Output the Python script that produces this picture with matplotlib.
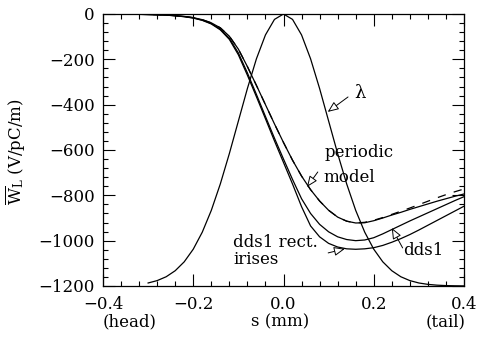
import matplotlib
matplotlib.use("Agg")
import matplotlib.pyplot as plt
from matplotlib.ticker import MultipleLocator

plt.rcParams['font.family'] = ['DejaVu Serif']
plt.rcParams['mathtext.fontset'] = 'dejavuserif'
plt.rcParams['lines.scale_dashes'] = False

# position along bunch (mm)
s = [-0.40, -0.38, -0.36, -0.34, -0.32, -0.30, -0.28, -0.26, -0.24, -0.22,
     -0.20, -0.18, -0.16, -0.14, -0.12, -0.10, -0.08, -0.06, -0.04, -0.02,
     0.00, 0.02, 0.04, 0.06, 0.08, 0.10, 0.12, 0.14, 0.16, 0.18,
     0.20, 0.22, 0.24, 0.26, 0.28, 0.30, 0.32, 0.34, 0.36, 0.38, 0.40]

# dds1 with rectangular irises
w_rect = [0, -0.2, -0.5, -1, -1.5, -2.5, -3.5, -5, -8, -12,
          -18, -28, -44, -70, -112, -180, -270, -365, -462, -560,
          -655, -750, -850, -935, -983, -1012, -1028, -1036, -1038, -1036,
          -1031, -1021, -1007, -991, -973, -953, -932, -911, -890, -869, -848]

# dds1
w_dds1 = [0, -0.2, -0.5, -1, -1.5, -2.4, -3.4, -5, -7.5, -11.5,
          -17, -27, -42, -67, -107, -172, -260, -355, -452, -548,
          -640, -730, -815, -880, -928, -961, -983, -995, -1000, -997,
          -987, -970, -951, -932, -913, -895, -877, -859, -841, -823, -806]

# periodic model
w_per = [0, -0.2, -0.4, -0.8, -1.3, -2, -3, -4.5, -7, -10.5,
         -16, -25, -39, -61, -98, -155, -232, -315, -400, -485,
         -567, -645, -715, -775, -825, -866, -896, -914, -922, -921,
         -912, -900, -887, -875, -862, -850, -838, -826, -815, -804, -794]

# dashed curve (coincides with periodic model in the head)
w_dash = [0, -0.2, -0.4, -0.8, -1.3, -2, -3, -4.5, -7, -10.5,
          -16, -25, -39, -61, -98, -155, -232, -315, -400, -485,
          -567, -645, -715, -775, -825, -866, -896, -914, -922, -919,
          -910, -898, -884, -870, -856, -841, -826, -811, -797, -784, -772]

# bunch distribution lambda (scaled)
lam_s = [-0.30, -0.28, -0.26, -0.24, -0.22, -0.20, -0.18, -0.16, -0.14, -0.12,
         -0.10, -0.08, -0.06, -0.04, -0.02, 0.00, 0.02, 0.04, 0.06, 0.08,
         0.10, 0.12, 0.14, 0.16, 0.18, 0.20, 0.22, 0.24, 0.26, 0.28,
         0.30, 0.32, 0.34, 0.36, 0.38, 0.40]
lam = [-1186.7, -1176.2, -1159.2, -1132.6, -1093.3, -1037.6, -962.5, -866.4, -749.6, -615.8,
       -472.2, -328.7, -197.6, -92.3, -23.8, 0.0, -23.8, -92.3, -197.6, -328.7,
       -472.2, -615.8, -749.6, -866.4, -962.5, -1037.6, -1093.3, -1132.6, -1159.2, -1176.2,
       -1186.7, -1192.8, -1196.3, -1198.2, -1199.1, -1199.6]

xticks = [-0.4, -0.2, 0.0, 0.2, 0.4]
xticklabels = ['\u22120.4', '\u22120.2', '0.0', '0.2', '0.4']
yticks = [-1200, -1000, -800, -600, -400, -200, 0]

fig = plt.figure(figsize=(4.79, 3.37), dpi=100)
ax = fig.add_axes([103/479, 1-286/337, (464-103)/479, (286-14)/337])

lw = 0.9
ax.plot(lam_s, lam, color='black', lw=lw)
ax.plot(s, w_rect, color='black', lw=lw)
ax.plot(s, w_dds1, color='black', lw=lw)
ax.plot(s, w_per, color='black', lw=lw)
ax.plot(s, w_dash, color='black', lw=lw, dashes=(6, 6))

ax.set_xlim(-0.4, 0.4)
ax.set_ylim(-1200, 0)
ax.set_xticks(xticks)
ax.set_xticklabels(xticklabels)
ax.set_yticks(yticks)
ax.xaxis.set_minor_locator(MultipleLocator(0.04))
ax.yaxis.set_minor_locator(MultipleLocator(40))
ax.tick_params(which='both', direction='in', top=True, right=True,
               labelsize=12, width=0.8)
ax.tick_params(which='major', length=8.5)
ax.tick_params(axis='y', which='major', pad=6)
ax.tick_params(axis='x', which='major', pad=7)
ax.tick_params(which='minor', length=3.5)
for sp in ax.spines.values():
    sp.set_linewidth(0.9)

fs = 12
aprops = dict(arrowstyle='-|>,head_length=0.6,head_width=0.25', fc='white',
              ec='black', lw=0.7, mutation_scale=11, shrinkA=0, shrinkB=0)
ax.text(0.169, -348, '\u03bb', fontsize=13, ha='center', va='center')
ax.annotate('', xy=(0.098, -432), xytext=(0.143, -366), arrowprops=aprops)

ax.text(0.092, -609, 'periodic', fontsize=fs, ha='left', va='center')
ax.text(0.088, -723, 'model', fontsize=fs, ha='left', va='center')
ax.annotate('', xy=(0.052, -763), xytext=(0.076, -697), arrowprops=aprops)

ax.text(-0.112, -1006, 'dds1 rect.', fontsize=fs, ha='left', va='center')
ax.text(-0.112, -1081, 'irises', fontsize=fs, ha='left', va='center')
ax.annotate('', xy=(0.136, -1036), xytext=(0.099, -1054), arrowprops=aprops)

ax.text(0.264, -1045, 'dds1', fontsize=fs, ha='left', va='center')
ax.annotate('', xy=(0.240, -944), xytext=(0.264, -1032), arrowprops=aprops)

fig.text(280/479, 1-322/337, 's (mm)', fontsize=fs, ha='center', va='center')
fig.text(130/479, 1-322/337, '(head)', fontsize=fs, ha='center', va='center')
fig.text(446/479, 1-322/337, '(tail)', fontsize=fs, ha='center', va='center')
fig.text(16/479, 1-152/337, r'$\overline{\mathrm{W}}_{\mathrm{L}}$ (V/pC/m)',
         fontsize=fs, rotation=90, ha='center', va='center')

fig.savefig('out.png', dpi=100)
